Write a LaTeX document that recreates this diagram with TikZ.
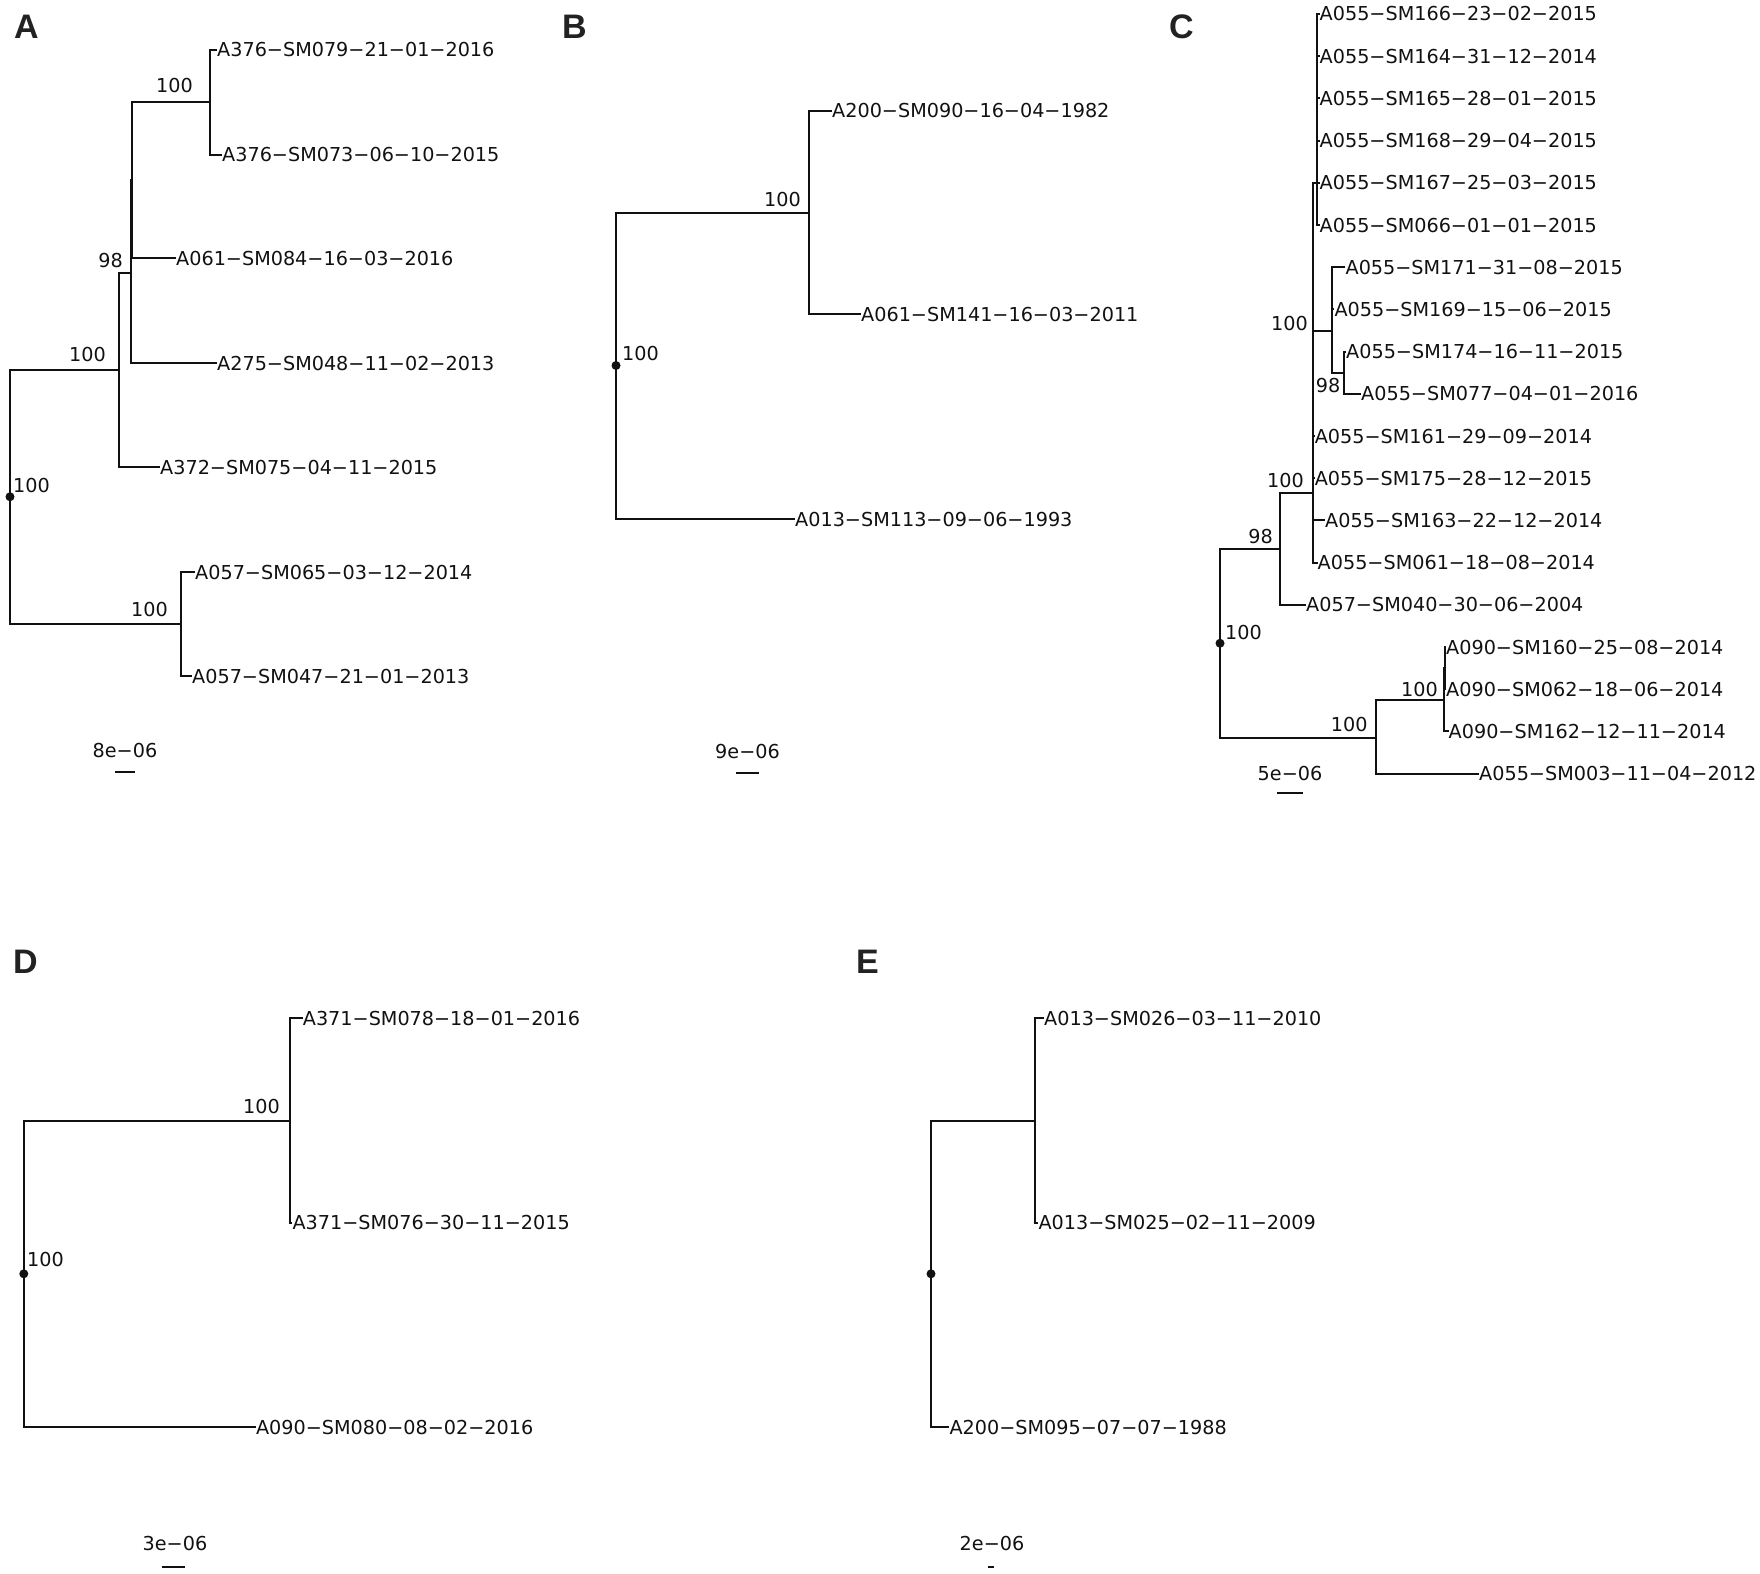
\documentclass[tikz,border=0pt]{standalone}
\usepackage{fontspec}
\setmainfont{DejaVu Sans}
\newfontfamily\letterfont{Liberation Sans}
\newcommand\lfnt{\fontsize{19.2}{23}\selectfont}
\newcommand\pfnt{\letterfont\fontsize{34}{40}\selectfont\bfseries}
\definecolor{ink}{HTML}{111111}
\definecolor{lettergray}{HTML}{222222}
\tikzset{
  br/.style={line width=2pt, draw=ink},
  leaf/.style={anchor=west, inner sep=0pt, font=\lfnt, text=ink, text height=14pt, text depth=0pt},
  bsl/.style={anchor=base east, inner sep=0pt, font=\lfnt, text=ink},
  bsr/.style={anchor=base west, inner sep=0pt, font=\lfnt, text=ink},
  sclab/.style={anchor=base, inner sep=0pt, font=\lfnt, text=ink},
  plet/.style={anchor=base west, inner sep=0pt, font=\pfnt, text=lettergray},
  rootdot/.style={fill=ink}
}
\begin{document}
\begin{tikzpicture}[x=1pt,y=-1pt]
\useasboundingbox (0,0) rectangle (1760,1573);

% ---------------- Panel letters
\node[plet] (LA) at (14,39) {A};
\node[plet] (LB) at (562,39) {B};
\node[plet] (LC) at (1169,39) {C};
\node[plet] (LD) at (13,973) {D};
\node[plet] (LE) at (856,973) {E};

% ---------------- Panel A
\coordinate (rA) at (10,496.75);
\coordinate (pA) at (119,369.5);
\coordinate (qA) at (131,273);
\coordinate (uA) at (131.5,180.5);
\coordinate (sA) at (210,102.5);
\coordinate (bA) at (181,624);
\coordinate (a1) at (217,50);
\coordinate (a2) at (222,155);
\coordinate (a3) at (176,258);
\coordinate (a4) at (217,363);
\coordinate (a5) at (160,467);
\coordinate (a6) at (195,572);
\coordinate (a7) at (192,676);
\node[leaf] (a1l) at (a1) {A376−SM079−21−01−2016};
\node[leaf] (a2l) at (a2) {A376−SM073−06−10−2015};
\node[leaf] (a3l) at (a3) {A061−SM084−16−03−2016};
\node[leaf] (a4l) at (a4) {A275−SM048−11−02−2013};
\node[leaf] (a5l) at (a5) {A372−SM075−04−11−2015};
\node[leaf] (a6l) at (a6) {A057−SM065−03−12−2014};
\node[leaf] (a7l) at (a7) {A057−SM047−21−01−2013};
\draw[br] (rA) |- (pA);
\draw[br] (rA) |- (bA);
\draw[br] (pA) |- (qA);
\draw[br] (pA) |- (a5);
\draw[br] (qA) |- (uA);
\draw[br] (qA) |- (a4);
\draw[br] (uA) |- (sA);
\draw[br] (uA) |- (a3);
\draw[br] (sA) |- (a1);
\draw[br] (sA) |- (a2);
\draw[br] (bA) |- (a6);
\draw[br] (bA) |- (a7);
\fill[rootdot] (rA) circle (4.5pt);
\node[bsl] (kA1) at (193,93) {100};
\node[bsl] (kA2) at (123,267) {98};
\node[bsl] (kA3) at (106,361) {100};
\node[bsr] (kA4) at (13,492) {100};
\node[bsl] (kA5) at (168,616) {100};
\node[sclab] (scA) at (125,757) {8e−06};
\coordinate (sbA1) at (115,772);
\coordinate (sbA2) at (135,772);
\draw[br] (sbA1) -- (sbA2);

% ---------------- Panel B
\coordinate (rB) at (616,365.5);
\coordinate (pB) at (808.5,212.5);
\coordinate (b1) at (832,111);
\coordinate (b2) at (861,314);
\coordinate (b3) at (795,519);
\node[leaf] (b1l) at (b1) {A200−SM090−16−04−1982};
\node[leaf] (b2l) at (b2) {A061−SM141−16−03−2011};
\node[leaf] (b3l) at (b3) {A013−SM113−09−06−1993};
\draw[br] (rB) |- (pB);
\draw[br] (rB) |- (b3);
\draw[br] (pB) |- (b1);
\draw[br] (pB) |- (b2);
\fill[rootdot] (rB) circle (4.5pt);
\node[bsl] (kB1) at (801,207) {100};
\node[bsr] (kB2) at (622,360) {100};
\node[sclab] (scB) at (747.5,758) {9e−06};
\coordinate (sbB1) at (736,773);
\coordinate (sbB2) at (759,773);
\draw[br] (sbB1) -- (sbB2);

% ---------------- Panel C
\coordinate (rC) at (1220,643.25);
\coordinate (n98) at (1280,549);
\coordinate (mC) at (1313,493);
\coordinate (wC) at (1316.5,183);
\coordinate (vC) at (1316.5,204);
\coordinate (xC) at (1332.4,330.5);
\coordinate (zC) at (1332.4,288.3);
\coordinate (yC) at (1343.6,372.7);
\coordinate (nB) at (1376,737.5);
\coordinate (gC) at (1444,700);
\coordinate (hC) at (1444.5,668);
\coordinate (c0) at (1319.5,14);
\coordinate (c1) at (1319.5,56.2);
\coordinate (c2) at (1319.5,98.4);
\coordinate (c3) at (1319.5,140.6);
\coordinate (c4) at (1319.5,182.8);
\coordinate (c5) at (1319.5,225);
\coordinate (c6) at (1345.4,267.2);
\coordinate (c7) at (1334.3,309.4);
\coordinate (c8) at (1346,351.6);
\coordinate (c9) at (1361,393.8);
\coordinate (c10) at (1314.6,436);
\coordinate (c11) at (1314.6,478.2);
\coordinate (c12) at (1325,520.4);
\coordinate (c13) at (1317.5,562.6);
\coordinate (c14) at (1306,604.8);
\coordinate (c15) at (1446,647);
\coordinate (c16) at (1446,689.2);
\coordinate (c17) at (1448.5,731.4);
\coordinate (c18) at (1479,773.6);
\node[leaf] (c0l) at (c0) {A055−SM166−23−02−2015};
\node[leaf] (c1l) at (c1) {A055−SM164−31−12−2014};
\node[leaf] (c2l) at (c2) {A055−SM165−28−01−2015};
\node[leaf] (c3l) at (c3) {A055−SM168−29−04−2015};
\node[leaf] (c4l) at (c4) {A055−SM167−25−03−2015};
\node[leaf] (c5l) at (c5) {A055−SM066−01−01−2015};
\node[leaf] (c6l) at (c6) {A055−SM171−31−08−2015};
\node[leaf] (c7l) at (c7) {A055−SM169−15−06−2015};
\node[leaf] (c8l) at (c8) {A055−SM174−16−11−2015};
\node[leaf] (c9l) at (c9) {A055−SM077−04−01−2016};
\node[leaf] (c10l) at (c10) {A055−SM161−29−09−2014};
\node[leaf] (c11l) at (c11) {A055−SM175−28−12−2015};
\node[leaf] (c12l) at (c12) {A055−SM163−22−12−2014};
\node[leaf] (c13l) at (c13) {A055−SM061−18−08−2014};
\node[leaf] (c14l) at (c14) {A057−SM040−30−06−2004};
\node[leaf] (c15l) at (c15) {A090−SM160−25−08−2014};
\node[leaf] (c16l) at (c16) {A090−SM062−18−06−2014};
\node[leaf] (c17l) at (c17) {A090−SM162−12−11−2014};
\node[leaf] (c18l) at (c18) {A055−SM003−11−04−2012};
\draw[br] (rC) |- (n98);
\draw[br] (rC) |- (nB);
\draw[br] (n98) |- (mC);
\draw[br] (n98) |- (c14);
\draw[br] (mC) |- (wC);
\draw[br] (mC) |- (xC);
\draw[br] (mC) |- (c10);
\draw[br] (mC) |- (c11);
\draw[br] (mC) |- (c12);
\draw[br] (mC) |- (c13);
\draw[br] (wC) |- (c0);
\draw[br] (wC) |- (c1);
\draw[br] (wC) |- (c2);
\draw[br] (wC) |- (c3);
\draw[br] (wC) |- (vC);
\draw[br] (vC) |- (c4);
\draw[br] (vC) |- (c5);
\draw[br] (xC) |- (zC);
\draw[br] (xC) |- (yC);
\draw[br] (zC) |- (c6);
\draw[br] (zC) |- (c7);
\draw[br] (yC) |- (c8);
\draw[br] (yC) |- (c9);
\draw[br] (nB) |- (gC);
\draw[br] (nB) |- (c18);
\draw[br] (gC) |- (hC);
\draw[br] (gC) |- (c17);
\draw[br] (hC) |- (c15);
\draw[br] (hC) |- (c16);
\fill[rootdot] (rC) circle (4.5pt);
\node[bsl] (kC1) at (1273,543) {98};
\node[bsl] (kC2) at (1304,487) {100};
\node[bsl] (kC3) at (1308,330) {100};
\node[bsl] (kC4) at (1340.6,392) {98};
\node[bsr] (kC5) at (1225,639) {100};
\node[bsl] (kC6) at (1438,696) {100};
\node[bsl] (kC7) at (1367.7,731) {100};
\node[sclab] (scC) at (1290,780) {5e−06};
\coordinate (sbC1) at (1277.4,793);
\coordinate (sbC2) at (1302.7,793);
\draw[br] (sbC1) -- (sbC2);

% ---------------- Panel D
\coordinate (rD) at (23.8,1273.8);
\coordinate (pD) at (289.6,1120.6);
\coordinate (d1) at (302.7,1018.3);
\coordinate (d2) at (292.3,1222.9);
\coordinate (d3) at (255.8,1427);
\node[leaf] (d1l) at (d1) {A371−SM078−18−01−2016};
\node[leaf] (d2l) at (d2) {A371−SM076−30−11−2015};
\node[leaf] (d3l) at (d3) {A090−SM080−08−02−2016};
\draw[br] (rD) |- (pD);
\draw[br] (rD) |- (d3);
\draw[br] (pD) |- (d1);
\draw[br] (pD) |- (d2);
\fill[rootdot] (rD) circle (4.5pt);
\node[bsl] (kD1) at (280,1113.3) {100};
\node[bsr] (kD2) at (27,1266.7) {100};
\node[sclab] (scD) at (175,1550.8) {3e−06};
\coordinate (sbD1) at (162,1567);
\coordinate (sbD2) at (185.4,1567);
\draw[br] (sbD1) -- (sbD2);

% ---------------- Panel E
\coordinate (rE) at (931,1273.8);
\coordinate (pE) at (1035,1120.6);
\coordinate (e1) at (1044,1018.3);
\coordinate (e2) at (1038.3,1222.9);
\coordinate (e3) at (949.3,1427);
\node[leaf] (e1l) at (e1) {A013−SM026−03−11−2010};
\node[leaf] (e2l) at (e2) {A013−SM025−02−11−2009};
\node[leaf] (e3l) at (e3) {A200−SM095−07−07−1988};
\draw[br] (rE) |- (pE);
\draw[br] (rE) |- (e3);
\draw[br] (pE) |- (e1);
\draw[br] (pE) |- (e2);
\fill[rootdot] (rE) circle (4.5pt);
\node[sclab] (scE) at (992,1550.8) {2e−06};
\coordinate (sbE1) at (987.7,1567);
\coordinate (sbE2) at (994,1567);
\draw[br] (sbE1) -- (sbE2);
\end{tikzpicture}
\end{document}
